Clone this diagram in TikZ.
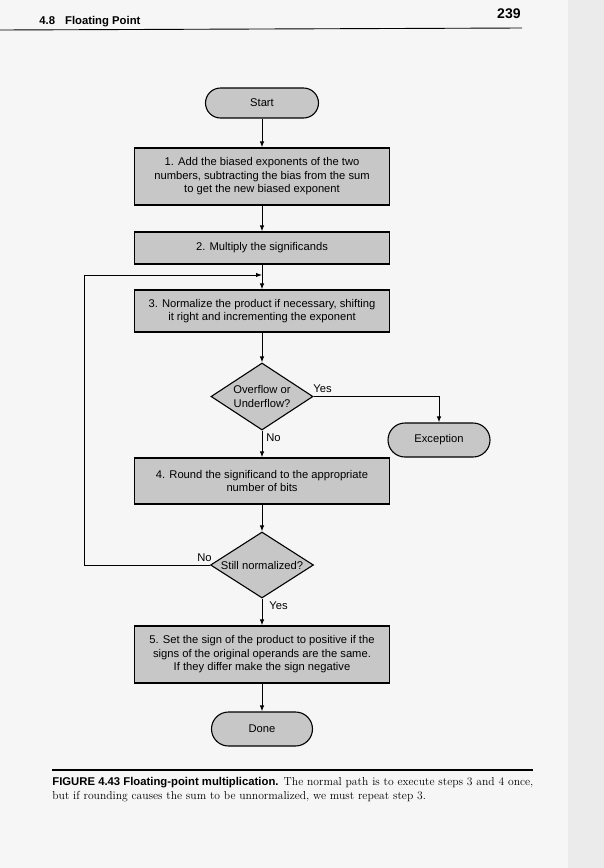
\documentclass[tikz,border=0pt]{standalone}
\usepackage{fontspec}
\newfontfamily\chartfont{Liberation Sans}
\usetikzlibrary{positioning, calc, arrows.meta, shapes.geometric}
\definecolor{boxgray}{gray}{0.78}
\definecolor{pagegray}{gray}{0.965}
\definecolor{guttergray}{gray}{0.92}

\begin{document}
\begin{tikzpicture}[
        x=1pt, y=-1pt,
        thick,
        block/.style={
            rectangle,
            draw,
            fill=boxgray,
            line width=1.1pt,
            minimum width=255pt,
            align=center,
            font=\chartfont\fontsize{11.2}{13.5}\selectfont
        },
        term/.style={
            rectangle,
            rounded corners=15pt,
            draw,
            fill=boxgray,
            line width=1.1pt,
            minimum height=30pt,
            font=\chartfont\fontsize{11.2}{13.5}\selectfont
        },
        decision/.style={
            diamond,
            aspect=1.5,
            draw,
            fill=boxgray,
            line width=1.1pt,
            inner sep=0pt,
            minimum width=102pt,
            minimum height=67pt,
            align=center,
            font=\chartfont\fontsize{11.2}{13.5}\selectfont
        },
        tag/.style={inner sep=0pt, font=\chartfont\fontsize{11.2}{12}\selectfont},
        arrow/.style={-{Latex[length=6pt,width=4.5pt]}, line width=1pt}
    ]

        % Page and margins
        \useasboundingbox (0,0) rectangle (604,868);
        \fill[pagegray] (0,0) rectangle (604,868);
        \fill[guttergray] (568,0) rectangle (604,868);

        % Running head
        \node[anchor=base west, inner sep=0pt, font=\chartfont\bfseries\fontsize{11.3}{13}\selectfont] (sec) at (39,24) {4.8\hspace{10pt}Floating Point};
        \node[anchor=base east, inner sep=0pt, font=\chartfont\bfseries\fontsize{14}{16}\selectfont] (page) at (521,18) {239};
        \draw[line width=0.9pt] (0,30) -- (522,28);

        % Steps
        \node[term, minimum width=113pt] (start) at (262,103) {Start};
        \node[block, minimum height=57pt] (add) at (262,176.5) {1. Add the biased exponents of the two\\numbers, subtracting the bias from the sum\\to get the new biased exponent};
        \node[block, minimum height=32pt] (mult) at (262,248) {2. Multiply the significands};
        \coordinate (join) at (262,275);
        \node[block, minimum height=42pt] (norm) at (262,311) {3. Normalize the product if necessary, shifting\\it right and incrementing the exponent};
        \node[decision] (ovf) at (262,396.5) {Overflow or\\Underflow?};
        \node[term, minimum width=102pt, minimum height=34pt, rounded corners=17pt] (exc) at (439,440) {Exception};
        \node[block, minimum height=46pt] (round) at (262,481) {4. Round the significand to the appropriate\\number of bits};
        \node[decision, minimum width=103pt, minimum height=66pt] (still) at (262,565) {Still normalized?};
        \coordinate (loop) at (84,275);
        \node[block, minimum height=57pt] (sign) at (262,654.5) {5. Set the sign of the product to positive if the\\signs of the original operands are the same.\\If they differ make the sign negative};
        \node[term, minimum width=101pt, minimum height=34pt, rounded corners=17pt] (done) at (262,729) {Done};

        % Connectors
        \draw[arrow] (start) -- (add);
        \draw[arrow] (add) -- (mult);
        \draw[arrow] (mult) -- (norm);
        \draw[arrow] (norm) -- (ovf);
        \draw[arrow] (ovf.east) -| (exc.north);
        \draw[arrow] (ovf) -- (round);
        \draw[arrow] (round) -- (still);
        \draw[arrow] (still.west) -| (loop) -- (join);
        \draw[arrow] (still) -- (sign);
        \draw[arrow] (sign) -- (done);

        % Branch labels
        \node[tag, anchor=base west] (yes1) at (313,392) {Yes};
        \node[tag, anchor=base west] (no1) at (266,441) {No};
        \node[tag, anchor=base east] (no2) at (212,561) {No};
        \node[tag, anchor=base west] (yes2) at (269,609) {Yes};

        % Caption
        \draw[line width=1.4pt] (52,770) -- (533,770);
        \node[anchor=north west, text width=481pt, align=justify, inner sep=0pt, font=\fontsize{11.6}{14}\selectfont] (cap) at (52,777) {{\chartfont\bfseries\fontsize{11.3}{14}\selectfont FIGURE 4.43 Floating-point multiplication.} The normal path is to execute steps 3 and 4 once,\linebreak but if rounding causes the sum to be unnormalized, we must repeat step 3.};

    \end{tikzpicture}
\end{document}
